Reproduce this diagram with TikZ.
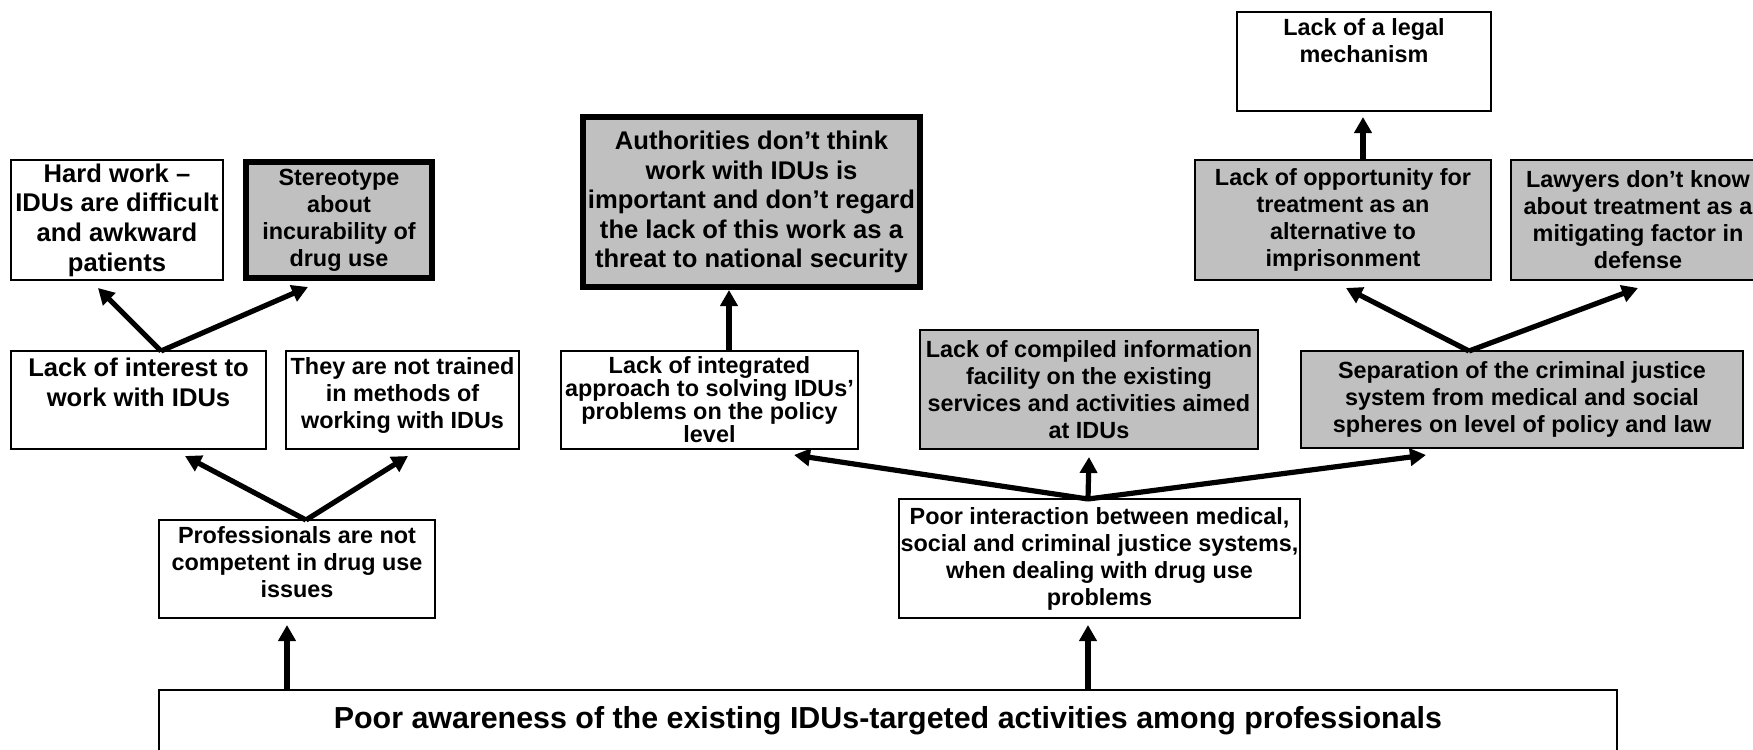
\documentclass[tikz,border=0pt]{standalone}
\usepackage{fontspec}
\setmainfont{Liberation Sans}[Ligatures={TeX,NoCommon}]
\usetikzlibrary{arrows.meta}
\definecolor{boxgray}{RGB}{192,192,192}
% text block of fixed size: width, height, vertical position (t/c), top gap, lines
\newcommand{\cbox}[5]{\parbox[c][#2][#3]{#1}{\vspace*{#4}\centering #5\par}}
\begin{document}
\begin{tikzpicture}[x=0.5pt,y=-0.5pt,
  box/.style={draw=black, line width=1pt, fill=white, inner sep=0pt, outer sep=0pt},
  gbox/.style={fill=boxgray},
  thickb/.style={line width=2.8pt},
  txt/.style={font=\bfseries\fontsize{11.7}{13.5}\selectfont},
  tight/.style={font=\bfseries\fontsize{11.7}{11.5}\selectfont},
  big/.style={font=\bfseries\fontsize{12.8}{14.8}\selectfont},
  huge/.style={font=\bfseries\fontsize{15.2}{17.5}\selectfont},
  arr/.style={line width=2.6pt, -{Triangle[length=8pt,width=8.5pt]}}
]
\useasboundingbox (0,0) rectangle (1753,750);
\clip (0,0) rectangle (1753,750);
\fill[white] (0,0) rectangle (1753,750);

% upper row
\node[box, big] (hardwork) at (117,220)
  {\cbox{106pt}{60pt}{c}{0pt}{Hard work –\\IDUs are difficult\\and awkward\\patients}};
\node[box, gbox, thickb, txt] (stereo) at (339,220)
  {\cbox{93.2pt}{58.2pt}{c}{0pt}{Stereotype\\about\\incurability of\\drug use}};
\node[box, gbox, thickb, big] (auth) at (751.5,202)
  {\cbox{168.7pt}{85.2pt}{c}{0pt}{Authorities don’t think\\work with IDUs is\\important and don’t regard\\the lack of this work as a\\threat to national security}};
\node[box, txt] (legal) at (1364,61.5)
  {\cbox{127pt}{49.5pt}{t}{3.3pt}{Lack of a legal\\mechanism}};
\node[box, gbox, txt] (oppty) at (1343,220)
  {\cbox{148pt}{60pt}{c}{0pt}{Lack of opportunity for\\treatment as an\\alternative to\\imprisonment}};
\node[box, gbox, txt] (lawyers) at (1638,220)
  {\cbox{127pt}{60pt}{c}{0pt}{Lawyers don’t know\\about treatment as a\\mitigating factor in\\defense}};

% middle row
\node[box, big] (interest) at (138.5,400)
  {\cbox{127.5pt}{49pt}{t}{3.5pt}{Lack of interest to\\work with IDUs}};
\node[box, txt] (trained) at (402.5,400)
  {\cbox{116.5pt}{49pt}{t}{3.5pt}{They are not trained\\in methods of\\working with IDUs}};
\node[box, tight] (integ) at (709.5,400)
  {\cbox{148.5pt}{49pt}{c}{0pt}{Lack of integrated\\approach to solving IDUs’\\problems on the policy\\level}};
\node[box, gbox, txt] (compiled) at (1089,389.5)
  {\cbox{169pt}{59.5pt}{c}{0pt}{Lack of compiled information\\facility on the existing\\services and activities aimed\\at IDUs}};
\node[box, gbox, txt] (separ) at (1522,399.5)
  {\cbox{221pt}{48.5pt}{c}{0pt}{Separation of the criminal justice\\system from medical and social\\spheres on level of policy and law}};

% lower row
\node[box, txt] (prof) at (297,569)
  {\cbox{138pt}{49pt}{t}{3.3pt}{Professionals are not\\competent in drug use\\issues}};
\node[box, txt] (interact) at (1099.5,558.5)
  {\cbox{200.5pt}{59.5pt}{c}{0pt}{Poor interaction between medical,\\social and criminal justice systems,\\when dealing with drug use\\problems}};

% root
\node[box, huge] (aware) at (888,732.5)
  {\cbox{729pt}{42.5pt}{t}{8pt}{Poor awareness of the existing IDUs-targeted activities among professionals}};

% connectors
\draw[arr] ([xshift=64pt]aware.north west) -- ([xshift=-5pt,yshift=-3.5pt]prof.south);
\draw[arr] ([xshift=464.5pt]aware.north west) -- ([xshift=-5.75pt,yshift=-3.5pt]interact.south);

\draw[arr] ([xshift=4.5pt]prof.north) -- ([xshift=23.25pt,yshift=-3.5pt]interest.south);
\draw[arr] ([xshift=4.5pt]prof.north) -- ([xshift=2.75pt,yshift=-3.5pt]trained.south);

\draw[arr] ([xshift=11.25pt]interest.north) -- ([xshift=-9.5pt,yshift=-4pt]hardwork.south);
\draw[arr] ([xshift=11.25pt]interest.north) -- ([xshift=-15.5pt,yshift=-4.4pt]stereo.south);

\draw[arr] ([xshift=-5.75pt]interact.north) -- ([xshift=42.25pt,yshift=-3pt]integ.south);
\draw[arr] ([xshift=-5.75pt]interact.north) -- ([yshift=-4pt]compiled.south);
\draw[arr] ([xshift=-5.75pt]interact.north) -- ([xshift=-48pt,yshift=-3.5pt]separ.south);

\draw[arr] ([xshift=9.75pt]integ.north) -- ([xshift=-11.25pt,yshift=-1.4pt]auth.south);

\draw[arr] ([xshift=-26.5pt]separ.north) -- ([xshift=1.5pt,yshift=-4pt]oppty.south);
\draw[arr] ([xshift=-26.5pt]separ.north) -- ([yshift=-4pt]lawyers.south);

\draw[arr] ([xshift=10pt]oppty.north) -- ([xshift=-0.5pt,yshift=-3pt]legal.south);
\end{tikzpicture}
\end{document}
